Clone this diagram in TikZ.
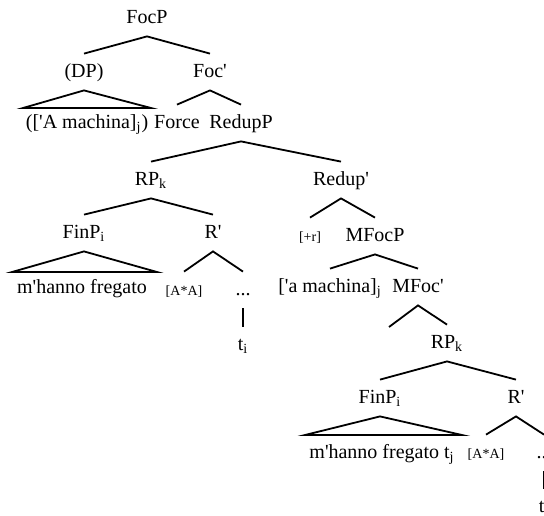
\documentclass[tikz,border=0pt]{standalone}
\usepackage{fontspec}
\setmainfont{Liberation Serif}
\usepackage{tikz}
\usetikzlibrary{positioning}
\newcommand{\apos}{\textquotesingle}
\newcommand{\sub}[1]{\textsubscript{#1}}

\begin{document}
\begin{tikzpicture}[
  x=0.5pt, y=-0.5pt,
  lbl/.style={font=\fontsize{10}{12}\selectfont, inner xsep=0pt, inner ysep=4.5pt,
              text height=7pt, text depth=2pt},
  feat/.style={lbl, font=\fontsize{7}{8}\selectfont},
  branch/.style={line width=0.9pt},
]
\clip (0,0) rectangle (544,515);
% upper part
\node[lbl] (focp) at (147,18) {FocP};
\node[lbl] (dp) at (84,72) {(DP)};
\node[lbl] (focbar) at (210,72) {Foc\apos};
\node[lbl] (dptxt) at (87,123) {([\apos A machina]\sub{j})};
\node[lbl] (force) at (177,123) {Force};
\node[lbl] (redupp) at (241,123) {RedupP};
\node[lbl] (rpk) at (151,180) {RP\sub{k}};
\node[lbl] (redupbar) at (341,180) {Redup\apos};
% first RP
\node[lbl] (finp) at (84,233) {FinP\sub{i}};
\node[lbl] (rbar) at (213,233) {R\apos};
\node[lbl] (finptxt) at (82,288) {m\apos hanno fregato};
\node[feat] (aa) at (184,290) {[A*A]};
\node[lbl] (dots) at (243,290) {...};
\node[lbl] (ti) at (243,345) {t\sub{i}};
% Redup' side
\node[feat] (plusr) at (310,236) {[+r]};
\node[lbl] (mfocp) at (375,236) {MFocP};
\node[lbl] (amach) at (330,287) {[\apos a machina]\sub{j}};
\node[lbl] (mfocbar) at (418,287) {MFoc\apos};
\coordinate (mfocnull) at (389,327);
% second RP
\node[lbl] (rpk2) at (447,343) {RP\sub{k}};
\node[lbl] (finp2) at (380,398) {FinP\sub{i}};
\node[lbl] (rbar2) at (516,398) {R\apos};
\node[lbl] (finptxt2) at (382,453) {m\apos hanno fregato t\sub{j}};
\node[feat] (aa2) at (486,453) {[A*A]};
\node[lbl] (dots2) at (544,453) {...};
\node[lbl] (ti2) at (544,507) {t\sub{i}};

% triangles
\coordinate (dpl) at (23,108);
\coordinate (dpr) at (151,108);
\coordinate (finl) at (12,272);
\coordinate (finr) at (157,272);
\coordinate (finl2) at (305,435);
\coordinate (finr2) at (462,435);
\draw[branch] (dp.south) -- (dpl) -- (dpr) -- cycle;
\draw[branch] (finp.south) -- (finl) -- (finr) -- cycle;
\draw[branch] (finp2.south) -- (finl2) -- (finr2) -- cycle;

% branches
\draw[branch] (dp.north) -- (focp.south) -- (focbar.north);
\draw[branch] (force.north) -- (focbar.south) -- (redupp.north);
\draw[branch] (rpk.north) -- (redupp.south) -- (redupbar.north);
\draw[branch] (finp.north) -- (rpk.south) -- (rbar.north);
\draw[branch] (aa.north) -- (rbar.south) -- (dots.north);
\draw[branch] (dots.south) -- (ti.north);
\draw[branch] (plusr.north) -- (redupbar.south) -- (mfocp.north);
\draw[branch] (amach.north) -- (mfocp.south) -- (mfocbar.north);
\draw[branch] (mfocnull) -- (mfocbar.south) -- (rpk2.north);
\draw[branch] (finp2.north) -- (rpk2.south) -- (rbar2.north);
\draw[branch] (aa2.north) -- (rbar2.south) -- (dots2.north);
\draw[branch] (dots2.south) -- (ti2.north);
\end{tikzpicture}
\end{document}
